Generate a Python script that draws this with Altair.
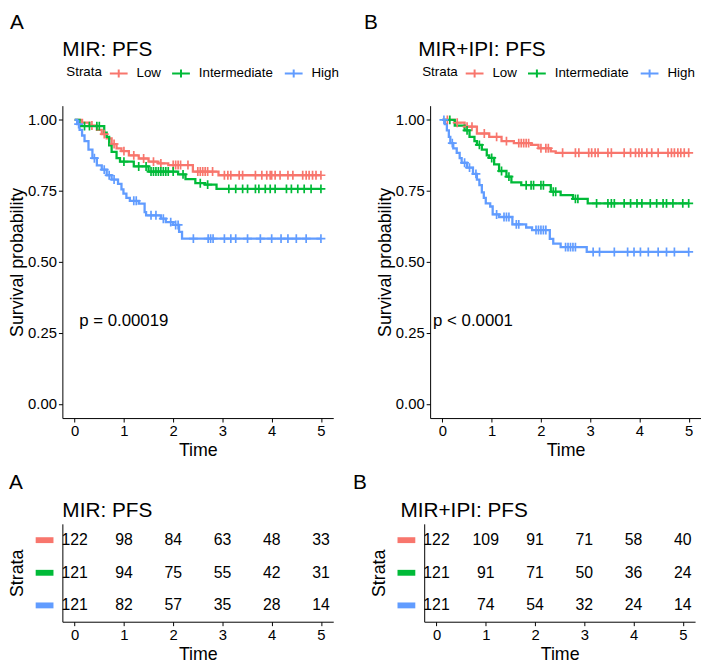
import bisect
import altair as alt
import pandas as pd

FONT = "Liberation Sans"
strata = ["Low", "Intermediate", "High"]
colors = ["#F8766D", "#00BA38", "#619CFF"]
times = [0, 1, 2, 3, 4, 5]

# ---- Panel A (MIR: PFS): step times, survival after each step, censor times
a_low_t = [0, 0.15, 0.3, 0.45, 0.55, 0.65, 0.75, 0.85, 0.95, 1.1, 1.3, 1.5, 1.7, 1.9, 2.4, 2.92]
a_low_s = [1.0, 0.99, 0.98, 0.965, 0.95, 0.935, 0.915, 0.90, 0.89, 0.875, 0.864, 0.853, 0.847, 0.841, 0.818, 0.805]
a_low_c = [0.35, 0.6, 0.8, 1.0, 1.2, 1.4, 1.6, 1.75, 2.0, 2.05, 2.1, 2.15, 2.3, 2.5, 2.55, 2.6, 2.65, 2.7, 2.8,
           3.04, 3.11, 3.17, 3.34, 3.41, 3.67, 3.8, 3.9, 3.97, 4.0, 4.07, 4.17, 4.33, 4.43, 4.63, 4.7, 4.76,
           4.83, 4.9, 5.0]
a_int_t = [0, 0.1, 0.6, 0.65, 0.7, 0.75, 0.85, 0.92, 1.2, 1.5, 2.1, 2.25, 2.45, 2.65, 2.88]
a_int_s = [1.0, 0.978, 0.955, 0.94, 0.91, 0.887, 0.865, 0.853, 0.836, 0.818, 0.808, 0.791, 0.777, 0.772, 0.757]
a_int_c = [0.2, 0.3, 0.45, 0.5, 1.0, 1.3, 1.45, 1.55, 1.6, 1.65, 1.7, 1.75, 1.8, 1.85, 1.9, 2.0, 2.2, 2.55, 2.7,
           3.13, 3.27, 3.41, 3.51, 3.67, 3.74, 3.87, 3.97, 4.07, 4.3, 4.4, 4.53, 4.66, 4.8, 5.0]
a_high_t = [0, 0.05, 0.1, 0.15, 0.2, 0.28, 0.36, 0.45, 0.55, 0.65, 0.75, 0.88, 0.95, 0.99, 1.05, 1.12, 1.3,
            1.42, 1.45, 1.75, 1.85, 2.0, 2.12, 2.18]
a_high_s = [1.0, 0.985, 0.965, 0.945, 0.925, 0.895, 0.865, 0.84, 0.825, 0.805, 0.79, 0.775, 0.755, 0.74, 0.725,
            0.715, 0.705, 0.675, 0.664, 0.652, 0.64, 0.63, 0.606, 0.582]
a_high_c = [0.08, 0.4, 0.6, 0.7, 0.8, 1.2, 1.25, 1.55, 1.65, 1.8, 1.95, 2.05, 2.1, 2.41, 2.71, 2.76, 2.81,
            3.04, 3.17, 3.27, 3.51, 3.77, 4.0, 4.19, 4.33, 4.5, 4.7, 5.0]

# ---- Panel B (MIR+IPI: PFS)
b_low_t = [0, 0.25, 0.45, 0.7, 0.95, 1.2, 1.45, 1.8, 1.95, 2.2, 2.3]
b_low_s = [1.0, 0.99, 0.976, 0.952, 0.94, 0.925, 0.918, 0.912, 0.9, 0.889, 0.884]
b_low_c = [0.1, 0.3, 0.5, 0.6, 0.85, 1.1, 1.3, 1.55, 1.6, 1.65, 1.7, 1.75, 2.0, 2.1, 2.15, 2.44, 2.7, 2.77,
           2.97, 3.03, 3.1, 3.16, 3.36, 3.43, 3.69, 3.82, 3.92, 3.99, 4.05, 4.15, 4.25, 4.38, 4.58, 4.65, 4.71,
           4.78, 4.84, 4.91, 5.0]
b_int_t = [0, 0.25, 0.45, 0.55, 0.65, 0.7, 0.8, 0.9, 0.95, 1.05, 1.15, 1.3, 1.4, 1.6, 2.2, 2.4, 2.65, 2.95]
b_int_s = [1.0, 0.98, 0.963, 0.94, 0.925, 0.912, 0.895, 0.875, 0.866, 0.843, 0.82, 0.80, 0.78, 0.77, 0.747,
           0.735, 0.722, 0.706]
b_int_c = [0.15, 0.5, 0.75, 1.0, 1.2, 1.35, 1.7, 1.8, 1.85, 2.0, 2.05, 2.25, 2.3, 2.7, 2.75, 3.13, 3.36, 3.43,
           3.49, 3.69, 3.82, 3.95, 4.05, 4.22, 4.35, 4.48, 4.55, 4.68, 4.88, 5.0]
b_high_t = [0, 0.05, 0.09, 0.13, 0.16, 0.22, 0.29, 0.35, 0.39, 0.5, 0.62, 0.7, 0.75, 0.8, 0.84, 0.88, 0.97,
            1.02, 1.15, 1.42, 1.7, 1.82, 2.18, 2.25, 2.4, 2.93]
b_high_s = [1.0, 0.985, 0.963, 0.94, 0.918, 0.9, 0.884, 0.865, 0.849, 0.832, 0.81, 0.79, 0.77, 0.745, 0.725,
            0.706, 0.695, 0.667, 0.658, 0.632, 0.621, 0.612, 0.581, 0.564, 0.552, 0.535]
b_high_c = [0.03, 0.2, 0.45, 0.55, 0.68, 1.1, 1.25, 1.3, 1.35, 1.5, 1.55, 1.9, 1.95, 2.0, 2.05, 2.1, 2.5, 2.55,
            2.6, 2.65, 2.7, 3.06, 3.19, 3.49, 3.76, 3.89, 4.02, 4.18, 4.38, 4.55, 4.71, 5.0]

# ---- Numbers at risk
risk_a = {"Low": [122, 98, 84, 63, 48, 33], "Intermediate": [121, 94, 75, 55, 42, 31],
          "High": [121, 82, 57, 35, 28, 14]}
risk_b = {"Low": [122, 109, 91, 71, 58, 40], "Intermediate": [121, 91, 71, 50, 36, 24],
          "High": [121, 74, 54, 32, 24, 14]}

W = 274
H_KM = 316
H_RT = 99

color_scale = alt.Scale(domain=strata, range=colors)
x_scale = alt.Scale(domain=[-0.25, 5.25], nice=False, zero=False)
CROSS = "M-1,0L1,0M0,-1L0,1"


def label_text(txt, x, y, size):
    return alt.Chart(pd.DataFrame({"label": [txt]})).mark_text(
        align="left", baseline="middle", fontSize=size, font=FONT, color="black"
    ).encode(text="label:N", x=alt.value(x), y=alt.value(y))


def km_panel(tag, title, pval, pval_x, head_dx, tag_dx, curves):
    line_rows, cens_rows = [], []
    for name, (ts, ss, cs) in zip(strata, curves):
        for t, s in zip(ts, ss):
            line_rows.append({"Time": t, "Surv": s, "Strata": name})
        line_rows.append({"Time": max(cs), "Surv": ss[-1], "Strata": name})
        for c in cs:
            i = bisect.bisect_right(ts, c) - 1
            cens_rows.append({"Time": c, "Surv": ss[i], "Strata": name})
    x = alt.X("Time:Q", scale=x_scale, axis=alt.Axis(values=times, format="d", title="Time"))
    y = alt.Y("Surv:Q", scale=alt.Scale(domain=[-0.05, 1.05], nice=False),
              axis=alt.Axis(values=[0, 0.25, 0.5, 0.75, 1.0], format=".2f", title="Survival probability"))
    legend = alt.Legend(
        orient="none", legendX=head_dx + 4, legendY=-43, direction="horizontal", title="Strata",
        titleOrient="left", titleFontSize=13.5, titleFontWeight="normal", titleColor="black", titleFont=FONT,
        labelFontSize=13.5, labelColor="black", labelFont=FONT, symbolType="M-1,0L1,0M0,-0.45L0,0.45",
        symbolSize=324, symbolStrokeWidth=2, labelOffset=8, columnPadding=7, titlePadding=6,
    )
    lines = alt.Chart(pd.DataFrame(line_rows)).mark_line(interpolate="step-after", strokeWidth=2.3).encode(
        x=x, y=y, color=alt.Color("Strata:N", scale=color_scale, legend=legend),
    )
    cens = alt.Chart(pd.DataFrame(cens_rows)).mark_point(shape=CROSS, size=81, strokeWidth=1.7,
                                                         filled=False, opacity=1).encode(
        x=x, y=y, color=alt.Color("Strata:N", scale=color_scale, legend=None),
    )
    ptxt = alt.Chart(pd.DataFrame({"label": [pval]})).mark_text(
        align="left", baseline="middle", fontSize=17, font=FONT, color="black"
    ).encode(text="label:N", x=alt.value(pval_x), y=alt.datum(0.29))
    return alt.layer(lines, cens, ptxt, label_text(title, head_dx, -56, 21),
                     label_text(tag, tag_dx, -84, 21)).properties(width=W, height=H_KM)


def risk_panel(tag, title, head_dx, tag_dx, risk):
    rows = [{"Time": t, "Strata": name, "n": n} for name in strata for t, n in zip(times, risk[name])]
    x = alt.X("Time:Q", scale=x_scale, axis=alt.Axis(values=times, format="d", title="Time"))
    y = alt.Y("Strata:N", scale=alt.Scale(domain=strata, type="point", padding=0.5),
              axis=alt.Axis(labels=False, ticks=False, title="Strata", titlePadding=36))
    nums = alt.Chart(pd.DataFrame(rows)).mark_text(fontSize=16, font=FONT, color="black").encode(
        x=x, y=y, text="n:Q")
    bars = alt.Chart(pd.DataFrame({"Strata": strata})).mark_point(
        shape="M-1,-0.33L1,-0.33L1,0.33L-1,0.33Z", filled=True, size=324, opacity=1, strokeWidth=0
    ).encode(x=alt.value(-18), y=y, color=alt.Color("Strata:N", scale=color_scale, legend=None))
    return alt.layer(nums, bars, label_text(title, head_dx, -13, 21),
                     label_text(tag, tag_dx, -41, 21)).properties(width=W, height=H_RT)


kmA = km_panel("A", "MIR: PFS", "p = 0.00019", 17, 0, -53,
               [(a_low_t, a_low_s, a_low_c), (a_int_t, a_int_s, a_int_c), (a_high_t, a_high_s, a_high_c)])
kmB = km_panel("B", "MIR+IPI: PFS", "p < 0.0001", 3, -12, -67,
               [(b_low_t, b_low_s, b_low_c), (b_int_t, b_int_s, b_int_c), (b_high_t, b_high_s, b_high_c)])
rtA = risk_panel("A", "MIR: PFS", 0, -54, risk_a)
rtB = risk_panel("B", "MIR+IPI: PFS", -24, -72, risk_b)

top = alt.hconcat(kmA, kmB, spacing=25).resolve_scale(color="independent")
bottom = alt.hconcat(rtA, rtB, spacing=20).resolve_scale(color="independent")

chart = alt.vconcat(top, bottom, spacing=13).resolve_scale(color="independent").properties(
    padding={"left": 0, "top": 0, "right": 0, "bottom": 0}
).configure_view(stroke=None).configure_axis(
    grid=False, domainColor="black", tickColor="black", labelColor="black", titleColor="black",
    labelFontSize=15, titleFontSize=18, titleFontWeight="normal", labelFont=FONT, titleFont=FONT,
    tickSize=4, domainWidth=1, tickWidth=1, labelPadding=2, titlePadding=3,
).configure_axisY(titlePadding=1)

chart.save("out.html", embed_options={"renderer": "svg", "actions": False})
